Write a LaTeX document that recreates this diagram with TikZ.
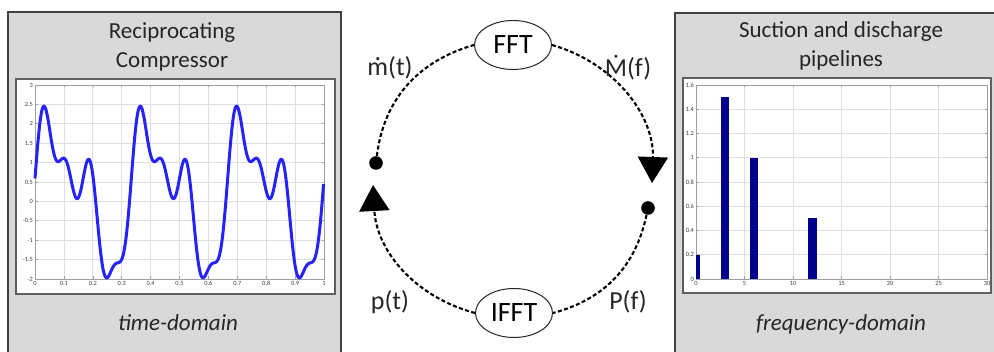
\documentclass[tikz,border=0pt]{standalone}
\usepackage{fontspec}
\setmainfont{Carlito}
\usetikzlibrary{arrows.meta,shapes.geometric}

\definecolor{panelfill}{RGB}{217,217,217}
\definecolor{paneledge}{RGB}{64,64,64}
\definecolor{frameedge}{RGB}{95,95,95}
\definecolor{gridgray}{RGB}{222,222,222}
\definecolor{wavecol}{RGB}{35,35,250}
\definecolor{barblue}{RGB}{0,0,140}

\begin{document}
\begin{tikzpicture}[x=0.5pt,y=0.5pt,
  panel/.style={fill=panelfill,draw=paneledge,line width=0.8pt},
  plotframe/.style={fill=white,draw=frameedge,line width=1pt},
  axesbox/.style={draw=gray!75,line width=0.35pt},
  gridline/.style={draw=gridgray,line width=0.35pt},
  tickmark/.style={draw=gray!75,line width=0.3pt},
  ticklab/.style={font=\fontsize{3.2}{3.5}\selectfont,text=gray!50!black,inner sep=0.6pt},
  title/.style={font=\fontsize{11.5}{14.5}\selectfont,align=center,text=black!85},
  domainlab/.style={font=\fontsize{11.5}{14}\selectfont\itshape,text=black!85,anchor=base},
  xform/.style={ellipse,draw=black!85,line width=0.5pt,fill=white,minimum width=38.5pt,
    minimum height=24.5pt,inner sep=0pt,font=\fontsize{14}{16}\selectfont},
  sig/.style={font=\fontsize{13}{15}\selectfont,text=black!85},
  flow/.style={line width=1.05pt,dash pattern=on 2pt off 1.2pt},
  tip/.style={-{Triangle[length=13pt,width=15pt]}},
  junction/.style={circle,fill=black,minimum size=6.8pt,inner sep=0pt},
  wave/.style={draw=wavecol,line width=1.5pt,line join=round},
  bar/.style={fill=barblue}
]
\useasboundingbox (0,0) rectangle (994,352);
\clip (0,0) rectangle (994,352);

% ---------- left panel: time domain ----------
\node[panel,minimum width=166.5pt,minimum height=175pt,inner sep=0pt] (lpanel) at (174.5,165) {};
\node[title] (ltitle) at (172,305) {Reciprocating\\Compressor};
\node[plotframe,minimum width=159.5pt,minimum height=107.5pt,inner sep=0pt] (lframe) at (175.5,165.5) {};

% grid
\foreach \k in {1,...,9} \draw[gridline] ({35+28.9*\k},73) -- ({35+28.9*\k},267);
\foreach \j in {1,...,9} \draw[gridline] (35,{73+19.4*\j}) -- (324,{73+19.4*\j});
\draw[axesbox] (35,73) rectangle (324,267);
% ticks and labels
\foreach \v in {-2,-1.5,-1,-0.5,0,0.5,1,1.5,2,2.5,3}{
  \draw[tickmark] (35,{150.6+38.8*\v}) -- ++(2.5,0);
  \draw[tickmark] (324,{150.6+38.8*\v}) -- ++(-2.5,0);
  \node[ticklab,anchor=east] at (34.5,{150.6+38.8*\v}) {\v};
}
\foreach \t in {0,0.1,0.2,0.3,0.4,0.5,0.6,0.7,0.8,0.9,1}{
  \draw[tickmark] ({35+289*\t},73) -- ++(0,2.5);
  \draw[tickmark] ({35+289*\t},267) -- ++(0,-2.5);
  \node[ticklab,anchor=north] at ({35+289*\t},72) {\t};
}
% periodic pressure/flow signal
\draw[wave] plot[domain=0:1,samples=400,variable=\t]
  ({35+289*\t},{150.6+38.8*(0.2+1.5*sin(1080*\t)+sin(2160*\t+32)+0.5*sin(4320*\t-16))});

\node[domainlab] (ldom) at (178,21) {time-domain};

% ---------- right panel: frequency domain ----------
\node[panel,minimum width=166.5pt,minimum height=175pt,inner sep=0pt,anchor=north west] (rpanel) at (674,340) {};
\node[title] (rtitle) at (841,306) {Suction and discharge\\pipelines};
\node[plotframe,minimum width=154pt,minimum height=107.5pt,inner sep=0pt,anchor=south west] (rframe) at (682,58) {};

\foreach \k in {1,...,5} \draw[gridline] ({696+48.5*\k},73) -- ({696+48.5*\k},267);
\foreach \j in {1,...,7} \draw[gridline] (696,{73+24.25*\j}) -- (987,{73+24.25*\j});
\draw[axesbox] (696,73) rectangle (987,267);
\foreach \v in {0,0.2,0.4,0.6,0.8,1,1.2,1.4,1.6}{
  \draw[tickmark] (696,{73+121.25*\v}) -- ++(2.5,0);
  \draw[tickmark] (987,{73+121.25*\v}) -- ++(-2.5,0);
  \node[ticklab,anchor=east] at (695.5,{73+121.25*\v}) {\v};
}
\foreach \f in {0,5,10,15,20,25,30}{
  \draw[tickmark] ({696+9.7*\f},73) -- ++(0,2.5);
  \draw[tickmark] ({696+9.7*\f},267) -- ++(0,-2.5);
  \node[ticklab,anchor=north] at ({696+9.7*\f},72) {\f};
}
% spectrum bars
\fill[bar] (696,73) rectangle (700.2,{73+121.25*0.2});
\foreach \f/\a in {3/1.5,6/1,12/0.5}
  \fill[bar] ({696+9.7*\f-4.15},73) rectangle ({696+9.7*\f+4.15},{73+121.25*\a});

\node[domainlab] (rdom) at (841,21) {frequency-domain};

% ---------- transform cycle ----------
\node[xform] (fft) at (513,307) {FFT};
\node[xform] (ifft) at (514,39) {IFFT};
\node[junction] (dotL) at (376,189) {};
\node[junction] (dotR) at (648,144) {};
\coordinate (tipR) at (652,169);
\coordinate (tipL) at (373,167);

\draw[flow] (dotL) to[out=83,in=196] (fft.west);
\draw[flow,tip] (fft.east) to[out=-16,in=88] (tipR);
\draw[flow] (dotR) to[out=-102,in=15] (ifft.east);
\draw[flow,tip] (ifft.west) to[out=165,in=-87] (tipL);

\node[sig] (lm) at (390,284) {ṁ(t)};
\node[sig] (lM) at (628,284) {Ṁ(f)};
\node[sig] (lp) at (390,50) {p(t)};
\node[sig] (lP) at (628,50) {P(f)};
\end{tikzpicture}
\end{document}
